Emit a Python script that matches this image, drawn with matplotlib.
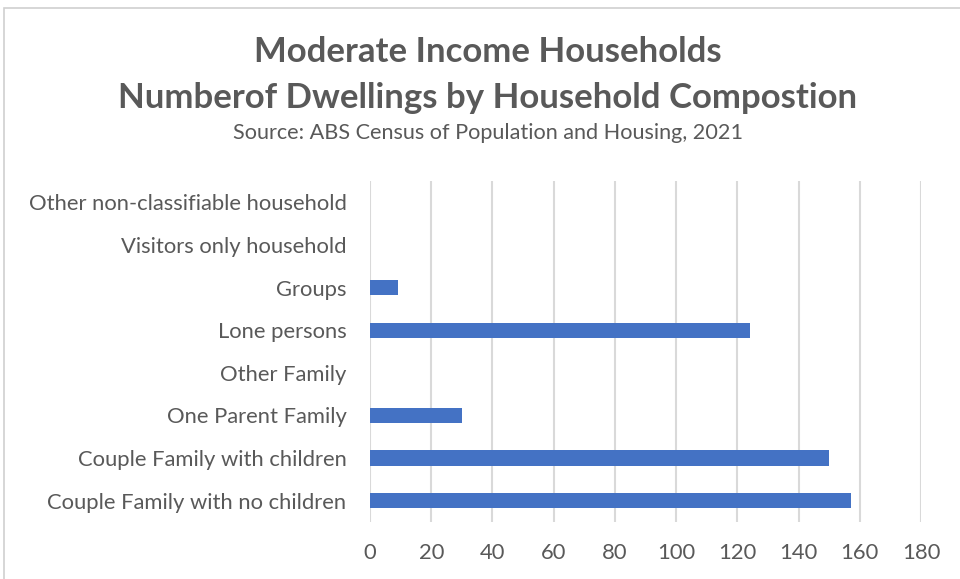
import matplotlib.pyplot as plt
from matplotlib.patches import Rectangle

# household composition, bottom to top
categories = [
    "Couple Family with no children",
    "Couple Family with children",
    "One Parent Family",
    "Other Family",
    "Lone persons",
    "Groups",
    "Visitors only household",
    "Other non-classifiable household",
]
dwellings = [157, 150, 30, 0, 124, 9, 0, 0]
x_ticks = [0, 20, 40, 60, 80, 100, 120, 140, 160, 180]

grey = "#595959"
plt.rcParams["font.family"] = ["Lato", "DejaVu Sans"]

fig = plt.figure(figsize=(9.6, 5.79), dpi=100)
ax = fig.add_axes([370 / 960, 1 - 522 / 579, 551 / 960, 341 / 579])

ax.barh(range(len(categories)), dwellings, height=0.36, color="#4472C4", zorder=3)

ax.set_xlim(0, 180)
ax.set_ylim(-0.5, len(categories) - 0.5)
ax.set_xticks(x_ticks)
ax.set_yticks(range(len(categories)))
ax.set_yticklabels(categories)
ax.tick_params(axis="both", length=0, colors=grey, labelsize=15.8)
ax.tick_params(axis="y", pad=17)
ax.tick_params(axis="x", pad=15)
ax.grid(axis="x", color="#d9d9d9", linewidth=1.5, zorder=0)
for side in ax.spines.values():
    side.set_visible(False)

# chart titles
fig.text(0.508, 1 - 52 / 579, "Moderate Income Households", ha="center", va="center",
         fontsize=25, fontweight="bold", color=grey)
fig.text(0.508, 1 - 98 / 579, "Numberof Dwellings by Household Compostion", ha="center",
         va="center", fontsize=25, fontweight="bold", color=grey)
fig.text(0.508, 1 - 133 / 579, "Source: ABS Census of Population and Housing, 2021",
         ha="center", va="center", fontsize=15.6, color=grey)

# chart area border, cut off on the right and bottom
fig.patches.append(Rectangle((4 / 960, -0.1), 1.2, 1 - 8 / 579 + 0.1, transform=fig.transFigure,
                             fill=False, edgecolor="#d0d0d0", linewidth=1.2))

fig.savefig("out.png", dpi=100)
